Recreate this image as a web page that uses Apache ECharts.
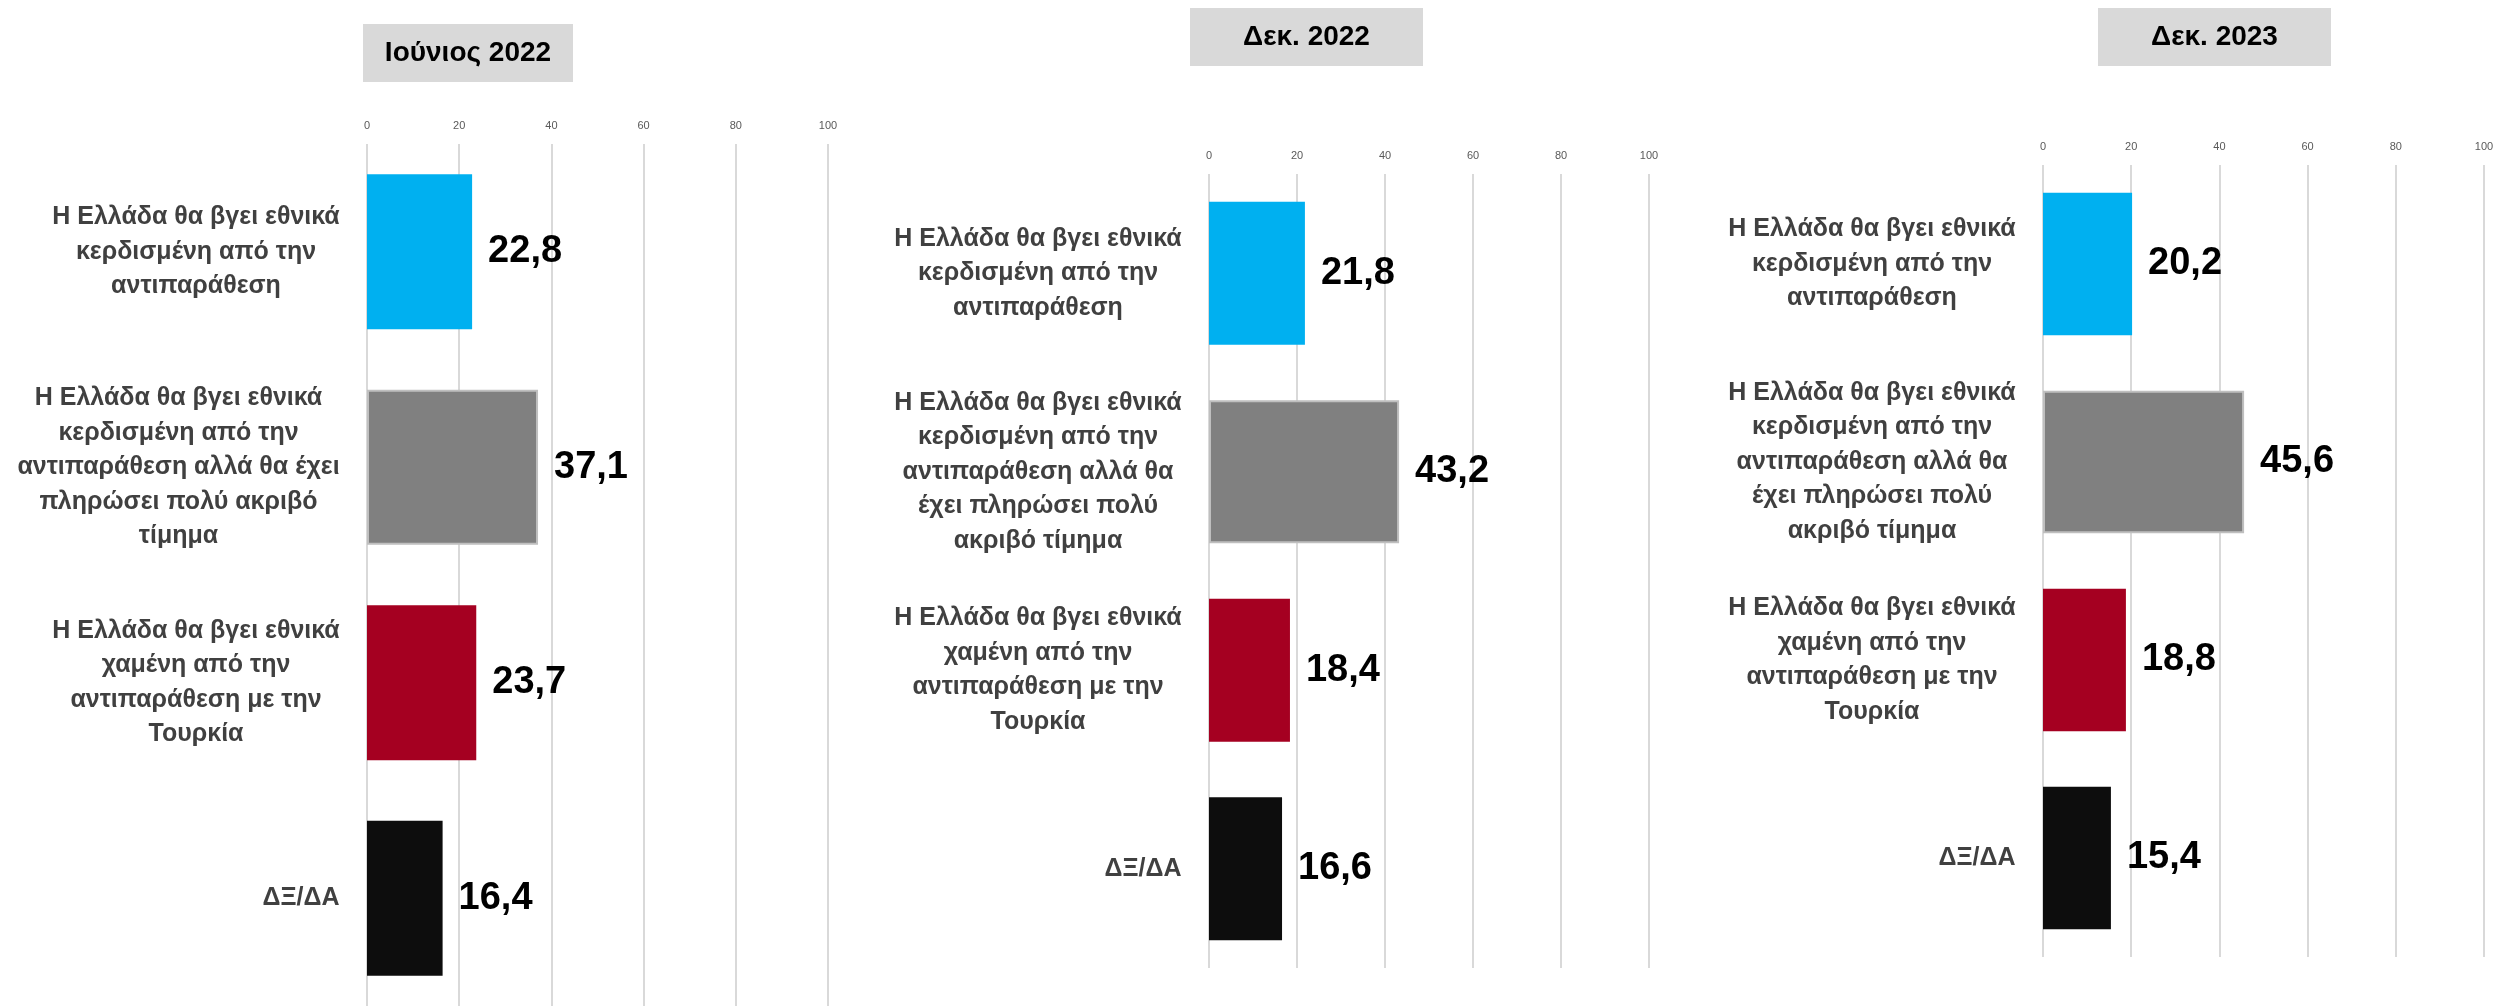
<!DOCTYPE html>
<html>
<head>
<meta charset="utf-8">
<script src="https://cdn.jsdelivr.net/npm/echarts@6/dist/echarts.min.js"></script>
<style>
html,body{margin:0;padding:0;background:#fff;}
#c{width:2501px;height:1006px;}
</style>
</head>
<body>
<div id="c"></div>
<script>
// ---- data ----
const periods = ['Ιούνιος 2022', 'Δεκ. 2022', 'Δεκ. 2023'];
const categoriesJune2022 = [
  'Η Ελλάδα θα βγει εθνικά\nκερδισμένη από την\nαντιπαράθεση',
  'Η Ελλάδα θα βγει εθνικά\nκερδισμένη από την\nαντιπαράθεση αλλά θα έχει\nπληρώσει πολύ ακριβό\nτίμημα',
  'Η Ελλάδα θα βγει εθνικά\nχαμένη από την\nαντιπαράθεση με την\nΤουρκία',
  'ΔΞ/ΔΑ'
];
const categoriesDec = [
  'Η Ελλάδα θα βγει εθνικά\nκερδισμένη από την\nαντιπαράθεση',
  'Η Ελλάδα θα βγει εθνικά\nκερδισμένη από την\nαντιπαράθεση αλλά θα\nέχει πληρώσει πολύ\nακριβό τίμημα',
  'Η Ελλάδα θα βγει εθνικά\nχαμένη από την\nαντιπαράθεση με την\nΤουρκία',
  'ΔΞ/ΔΑ'
];
const valuesJune2022 = [22.8, 37.1, 23.7, 16.4];
const valuesDec2022 = [21.8, 43.2, 18.4, 16.6];
const valuesDec2023 = [20.2, 45.6, 18.8, 15.4];
const axisTicks = [0, 20, 40, 60, 80, 100];

// ---- styles / layout ----
const FONT = 'Liberation Sans';
const barColors = ['#00B0F0', '#808080', '#A50021', '#0D0D0D'];
const panels = [
  {cats: categoriesJune2022, vals: valuesJune2022, grid: {left: 367, top: 144, width: 461, height: 864},
   box: {x: 363, y: 24, w: 210, h: 58}},
  {cats: categoriesDec, vals: valuesDec2022, grid: {left: 1209, top: 174, width: 440, height: 794},
   box: {x: 1190, y: 8, w: 233, h: 58}},
  {cats: categoriesDec, vals: valuesDec2023, grid: {left: 2043, top: 165, width: 441, height: 792},
   box: {x: 2098, y: 8, w: 233, h: 58}}
];

const catFontSize = 25;
const catFont = 'bold ' + catFontSize + 'px "' + FONT + '"';
const mctx = document.createElement('canvas').getContext('2d');
function blockWidth(text) {
  mctx.font = catFont;
  return Math.ceil(Math.max.apply(null, text.split('\n').map(l => mctx.measureText(l).width))) + 2;
}

const grids = [], xAxes = [], yAxes = [], series = [], graphics = [];
panels.forEach((p, k) => {
  grids.push(Object.assign({containLabel: false}, p.grid));
  xAxes.push({
    type: 'value', gridIndex: k, position: 'top',
    min: axisTicks[0], max: axisTicks[axisTicks.length - 1], interval: axisTicks[1] - axisTicks[0],
    axisLine: {show: false}, axisTick: {show: false},
    axisLabel: {margin: 13, color: '#595959', fontSize: 11, fontFamily: FONT},
    splitLine: {show: true, lineStyle: {color: '#D9D9D9', width: 2}}
  });
  const rich = {};
  p.cats.forEach((c, i) => {
    rich['c' + i] = {width: blockWidth(c), align: 'center', lineHeight: 34.5,
      fontSize: catFontSize, fontWeight: 'bold', fontFamily: FONT, color: '#404040'};
  });
  yAxes.push({
    type: 'category', gridIndex: k, inverse: true, data: p.cats,
    axisLine: {show: false}, axisTick: {show: false},
    axisLabel: {interval: 0, margin: 26, align: 'right',
      formatter: (v, i) => '{c' + i + '|' + v + '}', rich: rich},
    splitLine: {show: false}
  });
  series.push({
    type: 'bar', xAxisIndex: k, yAxisIndex: k, barCategoryGap: '28%',
    data: p.vals.map((v, i) => ({value: v, itemStyle: {color: barColors[i],
      borderColor: i === 1 ? '#BFBFBF' : barColors[i], borderWidth: i === 1 ? 2 : 0}})),
    label: {show: true, position: 'right', distance: 16,
      formatter: d => d.value.toFixed(1).replace('.', ','),
      fontSize: 38, fontWeight: 'bold', fontFamily: FONT, color: '#000'},
    animation: false
  });
  graphics.push({
    type: 'group', left: p.box.x, top: p.box.y,
    children: [
      {type: 'rect', shape: {x: 0, y: 0, width: p.box.w, height: p.box.h}, style: {fill: '#D9D9D9'}},
      {type: 'text', x: p.box.w / 2, y: p.box.h / 2,
       style: {text: periods[k], fill: '#000', font: 'bold 28px "' + FONT + '"',
               textAlign: 'center', textVerticalAlign: 'middle'}}
    ]
  });
});

const chart = echarts.init(document.getElementById('c'));
chart.setOption({
  backgroundColor: '#fff',
  animation: false,
  grid: grids, xAxis: xAxes, yAxis: yAxes, series: series,
  graphic: graphics
});
</script>
</body>
</html>
